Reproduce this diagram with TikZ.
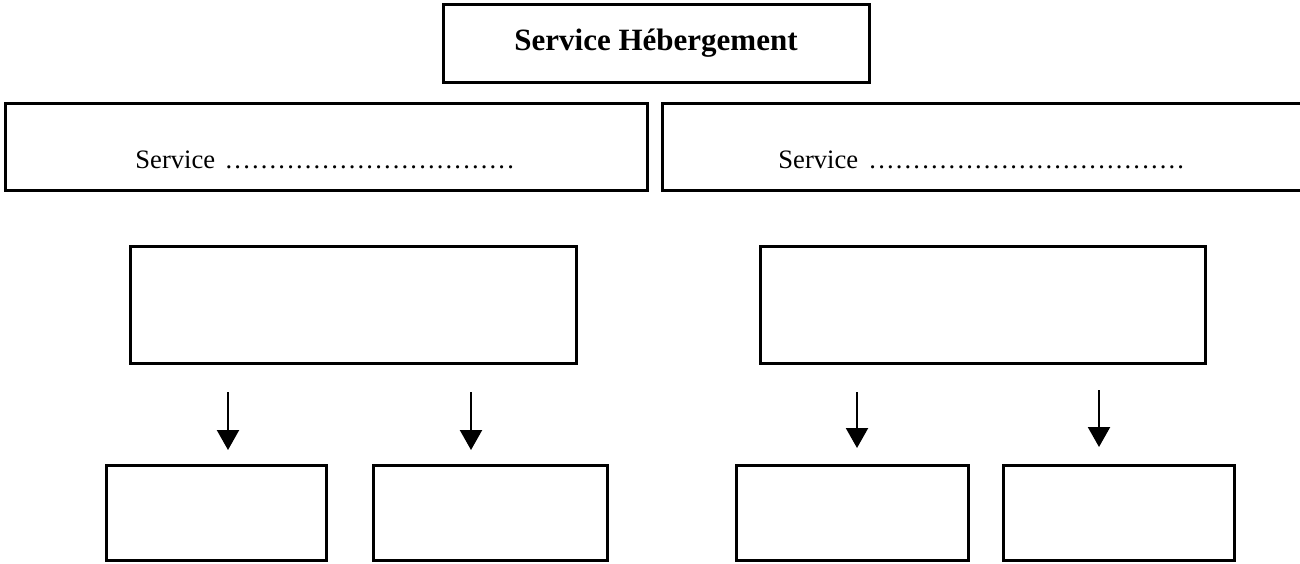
\documentclass[tikz,border=0pt]{standalone}
\usepackage{fontspec}
\setmainfont{Liberation Serif}
\usetikzlibrary{arrows.meta}
\newcommand{\mydots}[1]{\hbox to #1{\cleaders\hbox to 4.4pt{\hss.\hss}\hfill}}
\begin{document}
\begin{tikzpicture}[x=0.5pt,y=-0.5pt,
  box/.style={draw=black,line width=1.5pt,inner sep=0pt,minimum height=47.5pt},
  arr/.style={line width=1.1pt,-{Triangle[width=11pt,length=10pt]}},
  lbl/.style={inner sep=0pt,anchor=west,font=\fontsize{13.3pt}{15pt}\selectfont}]
\useasboundingbox (0,0) rectangle (1300,563);
% top box
\node[box,minimum width=213pt,minimum height=39pt,font=\bfseries\fontsize{15.5pt}{18pt}\selectfont] (top) at (656,43) {Service Hébergement};
% service boxes
\node[box,minimum width=321pt,minimum height=43.5pt] (sl) at (326,146.5) {};
\draw[line width=1.5pt] (1320,103) -- (662,103) -- (662,190) -- (1320,190);
\node[lbl] (tl) at (135,160) {Service \mydots{148pt}};
\node[lbl] (tr) at (778,160) {Service \mydots{162pt}};
% middle boxes
\node[box,minimum width=223pt,minimum height=58.5pt] (ml) at (353,304.5) {};
\node[box,minimum width=222.5pt,minimum height=58.5pt] (mr) at (982.5,304.5) {};
% bottom boxes
\node[box,minimum width=110pt] (b1) at (216,512.5) {};
\node[box,minimum width=117pt] (b2) at (490,512.5) {};
\node[box,minimum width=116pt] (b3) at (852,512.5) {};
\node[box,minimum width=115.5pt] (b4) at (1118.5,512.5) {};
% arrows
\coordinate (a1s) at (228,392); \coordinate (a1e) at (228,450);
\coordinate (a2s) at (471,392); \coordinate (a2e) at (471,450);
\coordinate (a3s) at (857,392); \coordinate (a3e) at (857,448);
\coordinate (a4s) at (1099,390); \coordinate (a4e) at (1099,447);
\draw[arr] (a1s) -- (a1e);
\draw[arr] (a2s) -- (a2e);
\draw[arr] (a3s) -- (a3e);
\draw[arr] (a4s) -- (a4e);
\end{tikzpicture}
\end{document}
